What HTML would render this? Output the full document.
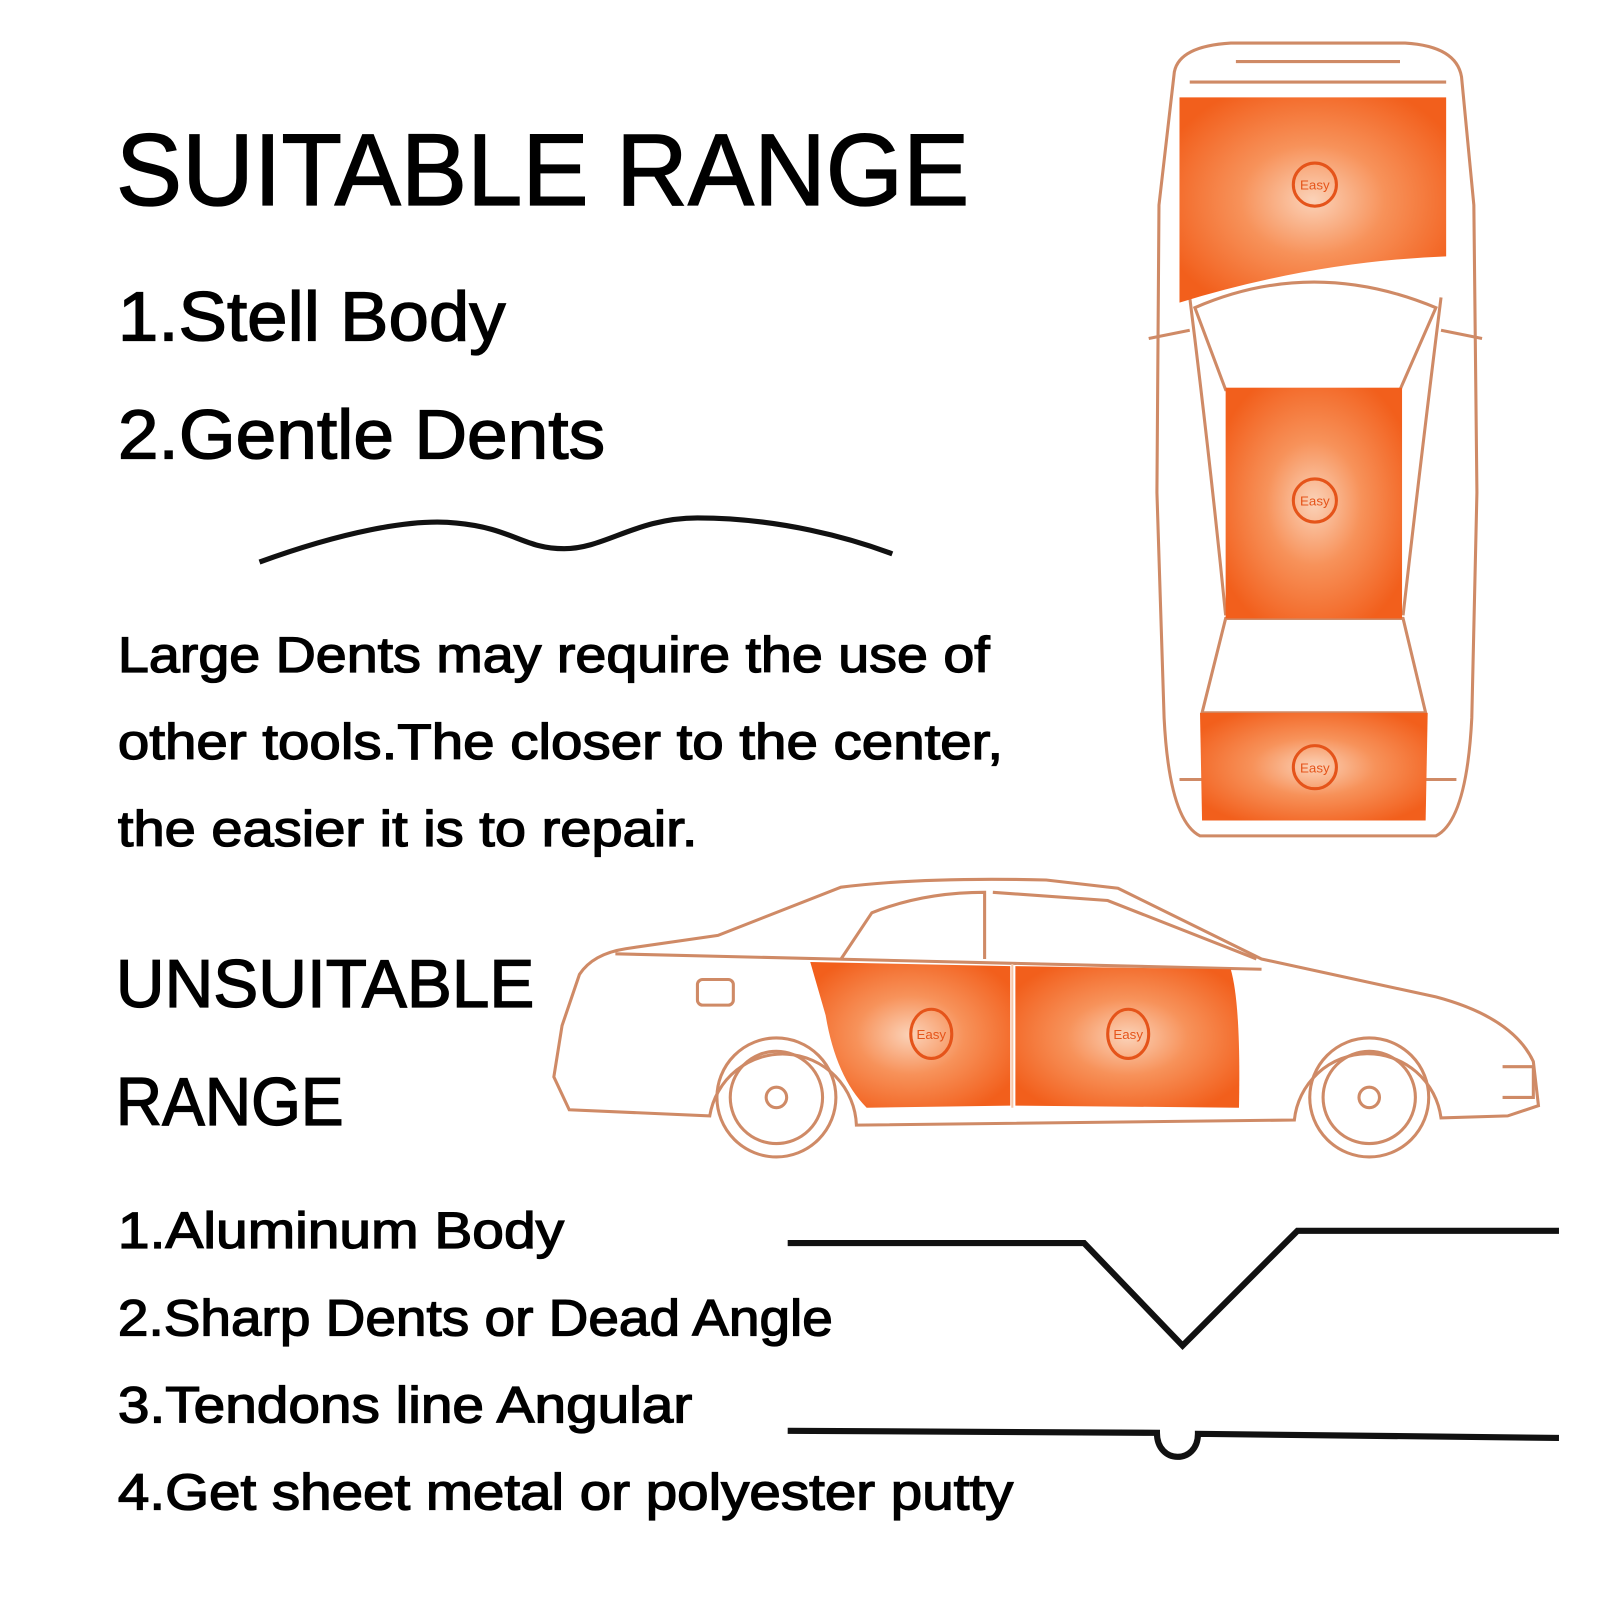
<!DOCTYPE html>
<html><head><meta charset="utf-8"><style>
html,body{margin:0;padding:0;background:#fff;}
svg{display:block}
text{font-family:"Liberation Sans",sans-serif;fill:#000}
.b{stroke:#000;stroke-width:1.3px}
</style></head><body>
<svg width="1600" height="1600" viewBox="0 0 1560 1560" xmlns="http://www.w3.org/2000/svg">
<defs>
<radialGradient id="g" cx="50%" cy="50%" r="60%">
<stop offset="0" stop-color="#fbd2b8"/><stop offset="0.45" stop-color="#f7925a"/><stop offset="1" stop-color="#f25f1c"/>
</radialGradient>
</defs>
<rect width="1560" height="1560" fill="#fff"/>
<text class="b" x="113" y="200" font-size="100" textLength="832" lengthAdjust="spacingAndGlyphs">SUITABLE RANGE</text>
<text class="b" x="115" y="332" font-size="68" textLength="378" lengthAdjust="spacingAndGlyphs">1.Stell Body</text>
<text class="b" x="115" y="447" font-size="68" textLength="475" lengthAdjust="spacingAndGlyphs">2.Gentle Dents</text>
<path d="M253,548 C330,520 400,505 445,510 C500,515 510,535 550,535 C590,535 620,505 680,505 C760,505 830,525 870,540" fill="none" stroke="#111" stroke-width="5"/>
<text class="b" x="115" y="655" font-size="49" textLength="850" lengthAdjust="spacingAndGlyphs">Large Dents may require the use of</text>
<text class="b" x="115" y="740" font-size="49" textLength="863" lengthAdjust="spacingAndGlyphs">other tools.The closer to the center,</text>
<text class="b" x="115" y="825" font-size="49" textLength="565" lengthAdjust="spacingAndGlyphs">the easier it is to repair.</text>
<text class="b" x="113" y="982" font-size="66" textLength="408" lengthAdjust="spacingAndGlyphs">UNSUITABLE</text>
<text class="b" x="113" y="1097" font-size="66" textLength="222" lengthAdjust="spacingAndGlyphs">RANGE</text>
<text class="b" x="115" y="1217" font-size="50" textLength="435" lengthAdjust="spacingAndGlyphs">1.Aluminum Body</text>
<text class="b" x="115" y="1302" font-size="50" textLength="697" lengthAdjust="spacingAndGlyphs">2.Sharp Dents or Dead Angle</text>
<text class="b" x="115" y="1387" font-size="50" textLength="560" lengthAdjust="spacingAndGlyphs">3.Tendons line Angular</text>
<text class="b" x="115" y="1472" font-size="50" textLength="873" lengthAdjust="spacingAndGlyphs">4.Get sheet metal or polyester putty</text>
<path d="M768,1212 L1057,1212 L1153,1312 L1265,1200 L1520,1200" fill="none" stroke="#111" stroke-width="6"/>
<path d="M768,1395 L1128,1397 C1128,1428 1168,1428 1168,1398 L1520,1402" fill="none" stroke="#111" stroke-width="6"/>

<g fill="none" stroke="#cf8a66" stroke-width="3">
<path d="M1145,70 Q1150,45 1200,42 L1370,42 Q1420,45 1425,75 L1437,200 L1440,480 L1435,700 Q1430,800 1400,815 L1170,815 Q1140,800 1135,700 L1128,480 L1130,200 Z"/>
<path d="M1160,80 L1410,80 M1205,60 L1365,60 M1150,760 L1420,760"/>
<path d="M1165,300 Q1280,250 1400,300 L1365,380 L1195,380 Z" fill="#fff"/>
<path d="M1160,290 Q1180,450 1195,600 M1405,290 Q1385,450 1368,600"/>
<path d="M1120,330 L1160,322 M1445,330 L1405,322"/>
<path d="M1195,603 L1368,603 L1390,695 L1172,695 Z" fill="#fff"/>
</g>
<path d="M1150,95 L1410,95 L1410,250 Q1280,255 1150,295 Z" fill="url(#g)"/>
<rect x="1195" y="378" width="172" height="225" fill="url(#g)"/>
<path d="M1170,695 L1392,695 L1390,800 L1172,800 Z" fill="url(#g)"/>
<g fill="none" stroke="#e5541a" stroke-width="3">
<circle cx="1282" cy="180" r="21"/><circle cx="1282" cy="488" r="21"/><circle cx="1282" cy="748" r="21"/>
</g>
<g font-size="13" text-anchor="middle">
<text x="1282" y="185" style="fill:#e5541a">Easy</text><text x="1282" y="493" style="fill:#e5541a">Easy</text><text x="1282" y="753" style="fill:#e5541a">Easy</text>
</g>

<g fill="none" stroke="#cf8a66" stroke-width="3">
<path d="M548,1000 L565,950 Q578,930 610,925 L700,912 L820,865 Q900,855 1020,858 L1090,866 L1230,935 L1400,972 Q1475,992 1495,1035 L1500,1078 L1470,1088 L1405,1090 A72,72 0 0 0 1262,1092 L835,1097 A72,72 0 0 0 692,1088 L555,1082 L540,1050 Z"/>
<path d="M820,935 L850,890 Q900,870 960,870 L960,935 M968,870 L1080,878 L1225,935 M600,930 L1230,945"/>
<circle cx="757" cy="1070" r="58"/><circle cx="757" cy="1070" r="45"/>
<circle cx="1335" cy="1070" r="58"/><circle cx="1335" cy="1070" r="45"/>
<circle cx="757" cy="1070" r="10"/><circle cx="1335" cy="1070" r="10"/>
<rect x="680" y="955" width="35" height="25" rx="5"/>
<path d="M1465,1040 L1495,1040 L1495,1070 L1465,1070"/>
</g>
<path d="M790,938 L985,942 L985,1078 L845,1080 Q815,1050 805,990 Z" fill="url(#g)"/>
<path d="M990,942 L1200,945 Q1210,980 1208,1080 L990,1078 Z" fill="url(#g)"/>
<line x1="987" y1="940" x2="987" y2="1080" stroke="#f5c6a8" stroke-width="2"/>
<g fill="none" stroke="#e5541a" stroke-width="3">
<ellipse cx="908" cy="1008" rx="20" ry="24"/><ellipse cx="1100" cy="1008" rx="20" ry="24"/>
</g>
<text x="908" y="1013" font-size="13" text-anchor="middle" style="fill:#e5541a">Easy</text>
<text x="1100" y="1013" font-size="13" text-anchor="middle" style="fill:#e5541a">Easy</text>
</svg>
</body></html>
